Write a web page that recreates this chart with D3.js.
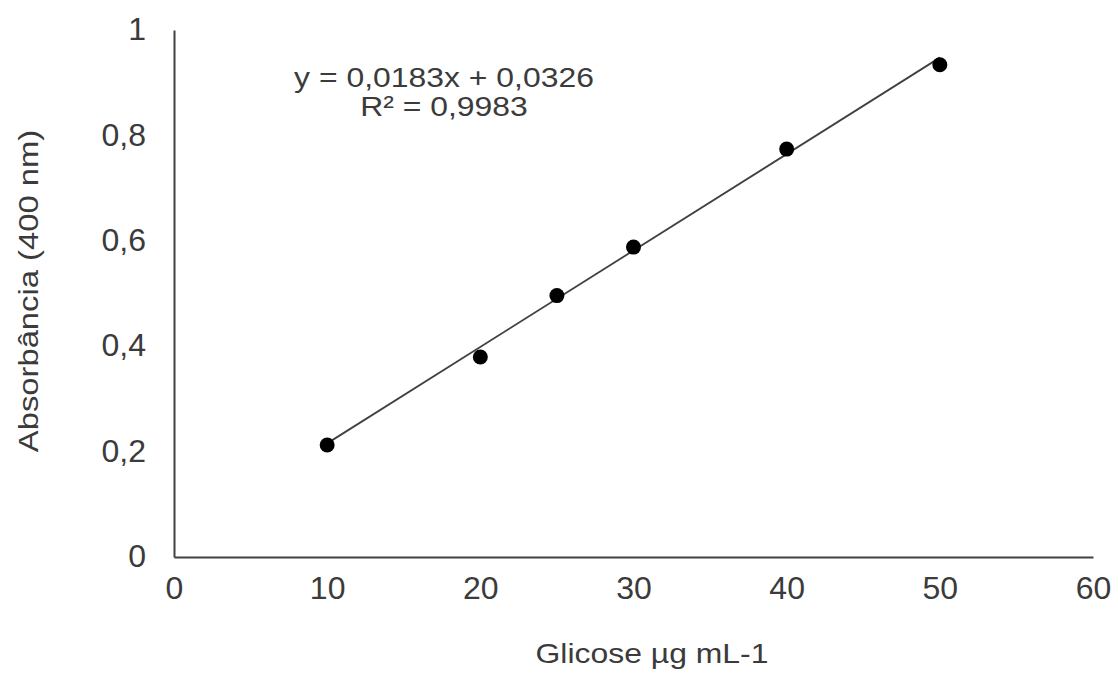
<!DOCTYPE html>
<html><head><meta charset="utf-8">
<script src="https://cdn.jsdelivr.net/npm/d3@7"></script>
<style>body{margin:0;background:#fff}svg{display:block}</style>
</head><body>
<svg id="c" width="1118" height="673"></svg>
<script>
const glucose = [10, 20, 25, 30, 40, 50];
const absorbance = [0.2125, 0.3795, 0.496, 0.588, 0.774, 0.934];
const xTicks = [0, 10, 20, 30, 40, 50, 60];
const yTicks = [0, 0.2, 0.4, 0.6, 0.8, 1];
const slope = 0.0183, intercept = 0.0326;
const equationText = "y = 0,0183x + 0,0326";
const r2Text = "R² = 0,9983";
const xTitle = "Glicose µg mL-1";
const yTitle = "Absorbância (400 nm)";

const svg = d3.select("#c");
const FONT = "'Liberation Sans', Arial, sans-serif";
const FS = 32;
const TXT = "#3b3b3b";
const x = d3.scaleLinear().domain([0, 60]).range([174, 1093]);
const y = d3.scaleLinear().domain([0, 1]).range([557, 30]);
const fmt = d => String(d).replace(".", ",");

const xAxis = svg.append("g").attr("transform", `translate(0,${y(0)})`)
  .call(d3.axisBottom(x).tickValues(xTicks).tickFormat(fmt).tickSize(0).tickPadding(19));
const yAxis = svg.append("g").attr("transform", `translate(${x(0)},0)`)
  .call(d3.axisLeft(y).tickValues(yTicks).tickFormat(fmt).tickSize(0).tickPadding(28));
[xAxis, yAxis].forEach(g => {
  g.select(".domain").attr("stroke", "#404040").attr("stroke-width", 2);
  g.selectAll("text").attr("fill", TXT).style("font-family", FONT).style("font-size", FS + "px");
});
yAxis.selectAll("text").attr("dy", "0.3em");

// trendline
svg.append("line")
  .attr("x1", x(10)).attr("y1", y(slope * 10 + intercept))
  .attr("x2", x(50)).attr("y2", y(slope * 50 + intercept))
  .attr("stroke", "#404040").attr("stroke-width", 1.8);

svg.selectAll("circle.pt").data(glucose.map((g, i) => [g, absorbance[i]]))
  .join("circle").attr("class", "pt")
  .attr("cx", d => x(d[0])).attr("cy", d => y(d[1])).attr("r", 7.5)
  .attr("fill", "#000");

function label(transform, str, fs) {
  svg.append("text").attr("transform", transform).attr("text-anchor", "middle")
    .style("font-family", FONT).style("font-size", fs + "px").attr("fill", TXT).text(str);
}
label("translate(444,87) scale(1.12,1)", equationText, 28.5);
label("translate(444,116) scale(1.12,1)", r2Text, 28.5);
label("translate(652,663) scale(1.12,1)", xTitle, 28.5);
label("translate(38,291) rotate(-90) scale(1.15,1)", yTitle, 28.5);
</script>
</body></html>
